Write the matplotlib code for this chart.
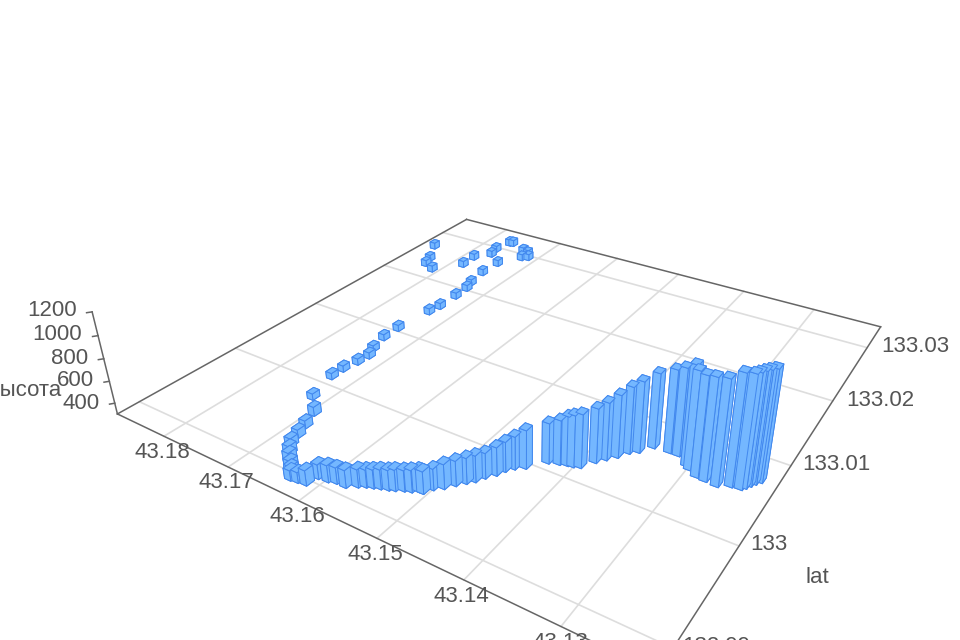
import matplotlib
matplotlib.use('Agg')
import matplotlib.pyplot as plt
import numpy as np

plt.rcParams['font.family'] = ['Liberation Sans', 'DejaVu Sans']

# track points
lon = [43.1855, 43.1834, 43.1828, 43.1809, 43.1780, 43.1781, 43.1765, 43.1769, 43.1759, 43.1764, 43.1731, 43.1720, 43.1720, 43.1712,
       43.1739, 43.1740, 43.1735, 43.1730, 43.1729, 43.1729, 43.1732, 43.1738, 43.1738, 43.1731, 43.1724, 43.1726, 43.1730, 43.1730,
       43.1718, 43.1694, 43.1685, 43.1679, 43.1674, 43.1665, 43.1655, 43.1643, 43.1635, 43.1633, 43.1624, 43.1614, 43.1611, 43.1599,
       43.1590, 43.1578, 43.1568, 43.1561, 43.1554, 43.1547, 43.1539, 43.1533, 43.1525, 43.1518, 43.1512, 43.1507, 43.1502, 43.1494,
       43.1487, 43.1480, 43.1474, 43.1469, 43.1462, 43.1458, 43.1452, 43.1443, 43.1428, 43.1417, 43.1409, 43.1403, 43.1396, 43.1387,
       43.1380, 43.1372, 43.1365, 43.1357, 43.1347, 43.1329, 43.1319, 43.1304, 43.1299, 43.1288, 43.1278, 43.1265, 43.1253, 43.1243,
       43.1240, 43.1237, 43.1234, 43.1230]
lat = [133.0264, 133.0237, 133.0225, 133.0218, 133.0244, 133.0264, 133.0280, 133.0293, 133.0315, 133.0314, 133.0305, 133.0302, 133.0290, 133.0294,
       133.0265, 133.0239, 133.0214, 133.0202, 133.0183, 133.0158, 133.0144, 133.0104, 133.0084, 133.0064, 133.0053, 133.0040, 133.0025, 133.0011,
       132.9980, 132.9964, 132.9948, 132.9936, 132.9925, 132.9917, 132.9910, 132.9903, 132.9898, 132.9896, 132.9897, 132.9898, 132.9908, 132.9909,
       132.9911, 132.9911, 132.9916, 132.9919, 132.9921, 132.9923, 132.9925, 132.9927, 132.9930, 132.9932, 132.9935, 132.9935, 132.9942, 132.9947,
       132.9954, 132.9960, 132.9965, 132.9972, 132.9979, 132.9986, 132.9992, 132.9997, 133.0011, 133.0014, 133.0016, 133.0017, 133.0019, 133.0030,
       133.0037, 133.0044, 133.0053, 133.0058, 133.0069, 133.0070, 133.0070, 133.0062, 133.0059, 133.0054, 133.0053, 133.0052, 133.0057, 133.0058,
       133.0061, 133.0065, 133.0069, 133.0073]
height = [368, 367, 366, 366, 366, 367, 367, 367, 368, 368, 367, 367, 367, 367,
          366, 366, 365, 364, 364, 363, 363, 362, 361, 361, 361, 361, 360, 360,
          359, 383, 372, 375, 375, 380, 391, 400, 404, 390, 394, 433, 428, 449,
          443, 455, 458, 456, 464, 472, 477, 484, 484, 492, 493, 494, 486, 515,
          519, 525, 531, 523, 547, 562, 586, 635, 651, 687, 728, 748, 764, 772,
          799, 844, 880, 918, 951, 1018, 1056, 1156, 1137, 1152, 1168, 1192, 1239, 1249,
          1250, 1248, 1243, 1240]

lon_ticks = [43.18, 43.17, 43.16, 43.15, 43.14, 43.13]
lat_ticks = [133.03, 133.02, 133.01, 133, 132.99]
z_ticks = [1200, 1000, 800, 600, 400]

LON0, LON1 = 43.18786, 43.12113
LAT0, LAT1 = 132.98796, 133.03446
Z0, Z1 = 300, 1200
TEXT = '#555555'
AXIS = '#666666'
GRID = '#dddddd'

fig = plt.figure(figsize=(9.6, 6.4), dpi=100)
ax = fig.add_axes([126.97 / 960, -81.96 / 640, 782.47 / 960, 782.47 / 640], projection='3d')
ax.computed_zorder = False
ax.set_axis_off()

# floor grid
for v in lon_ticks:
    ax.plot([v, v], [LAT0, LAT1], [Z0, Z0], color=GRID, lw=1.2, zorder=1, clip_on=False)
for v in lat_ticks:
    ax.plot([LON0, LON1], [v, v], [Z0, Z0], color=GRID, lw=1.2, zorder=1, clip_on=False)

# box outline and height axis
edges = [((LON0, LON1), (LAT0, LAT0)), ((LON1, LON1), (LAT0, LAT1)),
         ((LON1, LON0), (LAT1, LAT1)), ((LON0, LON0), (LAT1, LAT0))]
for xs, ys in edges:
    ax.plot(xs, ys, [Z0, Z0], color=AXIS, lw=1.1, zorder=2, clip_on=False)
ax.plot([LON0, LON0], [LAT0, LAT0], [Z0, Z1], color=AXIS, lw=1.1, zorder=2, clip_on=False)
for v in z_ticks:
    ax.plot([LON0, LON0 + 0.00033], [LAT0, LAT0 - 0.0003], [v, v], color=AXIS, lw=1.1, zorder=2, clip_on=False)

# bars
dx, dy = 0.013 * (LON0 - LON1), 0.017 * (LAT1 - LAT0)
x = np.array(lon) - dx / 2
y = np.array(lat) - dy / 2
ax.bar3d(x, y, Z0, dx, dy, np.array(height) - Z0, color='#74b7ff', edgecolor='#4288ee',
         linewidth=0.7, shade=False, zorder=3)

ax.set_xlim(LON0, LON1)
ax.set_ylim(LAT0, LAT1)
ax.set_zlim(Z0, Z1)
ax.view_init(elev=28.768, azim=-57.543, roll=-0.148)
ax.set_proj_type('persp', focal_length=0.2254)
ax.set_box_aspect((1, 1.0005, 0.1946))


def label(px, py, s, ha='center'):
    fig.text(px / 960, 1 - (py + 1) / 640, s, color=TEXT, fontsize=16, ha=ha, va='center')


for v, (px, py) in zip(lon_ticks, [(162.7, 451.7), (226.7, 481.7), (297.3, 515), (375.3, 554), (461.7, 595.7), (560, 641)]):
    label(px, py, f'{v:g}')
for v, (px, py) in zip(lat_ticks, [(915, 345.7), (880, 400), (836.7, 464), (769.3, 544), (716, 645)]):
    label(px, py, f'{v:g}')
for v, (px, py) in zip(z_ticks, [(77, 310), (82.3, 334), (88.5, 357.7), (93.7, 379.3), (99.3, 402.3)]):
    label(px, py, f'{v}', ha='right')
label(817, 576.7, 'lat')
label(62, 390, 'высота', ha='right')

fig.savefig('out.png', dpi=100)
